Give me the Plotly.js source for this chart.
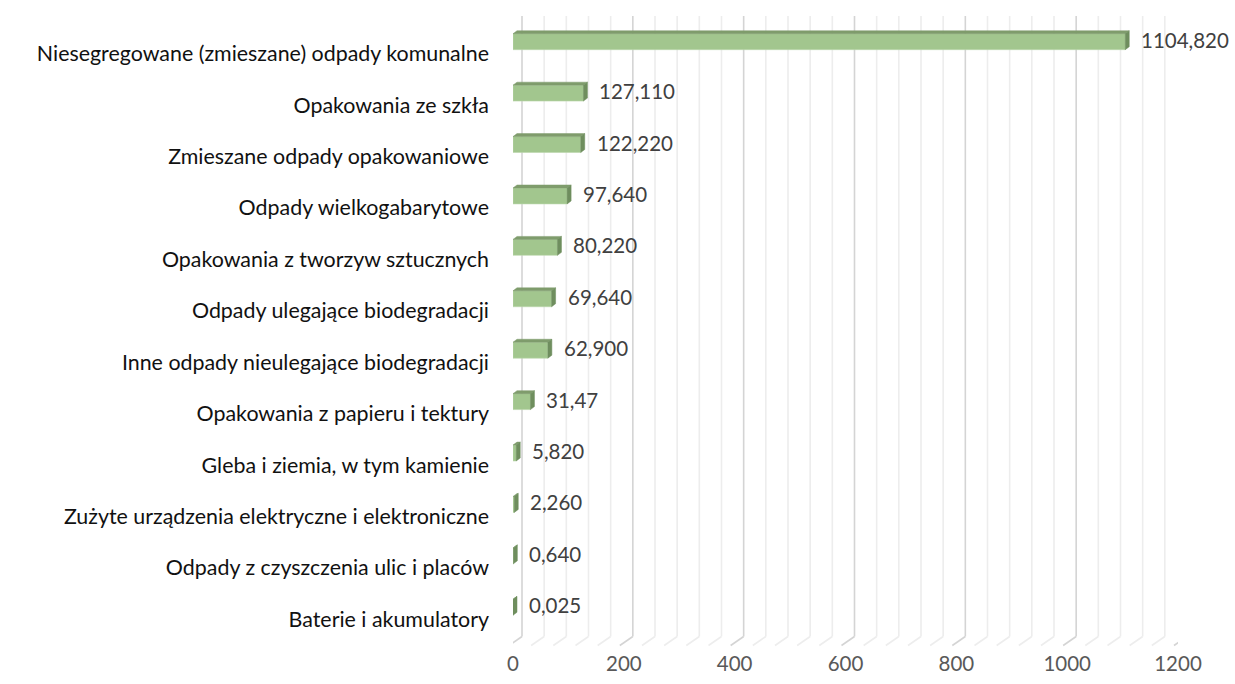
<!DOCTYPE html>
<html>
<head>
<meta charset="utf-8">
<script src="https://cdn.plot.ly/plotly-3.0.1.min.js"></script>
<style>html,body{margin:0;padding:0;background:#fff;}#chart{width:1235px;height:684px;}</style>
</head>
<body>
<div id="chart"></div>
<script>
// ---- data ----
const categories = [
  'Niesegregowane (zmieszane) odpady komunalne',
  'Opakowania ze szkła',
  'Zmieszane odpady opakowaniowe',
  'Odpady wielkogabarytowe',
  'Opakowania z tworzyw sztucznych',
  'Odpady ulegające biodegradacji',
  'Inne odpady nieulegające biodegradacji',
  'Opakowania z papieru i tektury',
  'Gleba i ziemia, w tym kamienie',
  'Zużyte urządzenia elektryczne i elektroniczne',
  'Odpady z czyszczenia ulic i placów',
  'Baterie i akumulatory'
];
const values = [1104.82, 127.11, 122.22, 97.64, 80.22, 69.64, 62.9, 31.47, 5.82, 2.26, 0.64, 0.025];
const valueLabels = ['1104,820','127,110','122,220','97,640','80,220','69,640','62,900','31,47','5,820','2,260','0,640','0,025'];
const xTickVals = [0, 200, 400, 600, 800, 1000, 1200];
const xMinorStep = 40;

// ---- layout constants ----
const W = 1235, H = 684;
const M = {l: 513, r: 57, t: 15.5, b: 50.5};
const plotW = W - M.l - M.r, plotH = H - M.t - M.b;
const xMax = 1200;
const n = categories.length;
const pxPerX = plotW / xMax;
const pxPerY = plotH / n;
const barW = 0.31;
const depthPxX = 4, depthPxY = 3;
const dX = depthPxX / pxPerX, dY = depthPxY / pxPerY;

const yPos = categories.map((c, i) => n - 1 - i);

// 3D faces
const topX = [], topY = [], sideX = [], sideY = [];
values.forEach((v, i) => {
  const y = yPos[i], h = barW / 2;
  topX.push(0, v, v + dX, dX, 0, null);
  topY.push(y + h, y + h, y + h + dY, y + h + dY, y + h, null);
  sideX.push(v, v + dX, v + dX, v, v, null);
  sideY.push(y - h, y - h + dY, y + h + dY, y + h, y - h, null);
});

const traces = [
  {
    type: 'bar', orientation: 'h', x: values, y: yPos, width: barW,
    marker: {color: '#a2c68e', line: {color: '#bcd6ad', width: 0.6}},
    hoverinfo: 'skip'
  },
  {
    type: 'scatter', mode: 'lines', x: topX, y: topY, fill: 'toself',
    fillcolor: '#7f9c6c', line: {color: '#7f9c6c', width: 0.5}, hoverinfo: 'skip'
  },
  {
    type: 'scatter', mode: 'lines', x: sideX, y: sideY, fill: 'toself',
    fillcolor: '#6f8e5e', line: {color: '#6f8e5e', width: 0.5}, hoverinfo: 'skip'
  }
];

// back-wall gridlines and floor diagonals
const shapes = [];
for (let g = 0; g <= xMax + 1e-9; g += xMinorStep) {
  const major = Math.abs(g % 200) < 1e-9;
  const col = major ? '#d4d4d4' : '#ededed';
  shapes.push({
    type: 'line', layer: 'below', xref: 'x', yref: 'paper',
    xsizemode: 'pixel', xanchor: g, x0: 9, x1: 9,
    y0: -3.5 / plotH, y1: 1,
    line: {color: col, width: 1.6}
  });
  shapes.push({
    type: 'line', layer: 'below', xref: 'x', yref: 'paper',
    xsizemode: 'pixel', xanchor: g, x0: 9, x1: -4,
    ysizemode: 'pixel', yanchor: 0, y0: -3.5, y1: -12.5,
    line: {color: col, width: 1.6}
  });
}

const annotations = values.map((v, i) => ({
  x: v, y: yPos[i], xref: 'x', yref: 'y',
  text: valueLabels[i], showarrow: false,
  xanchor: 'left', yanchor: 'middle', xshift: 14, yshift: 2,
  font: {family: 'Lato, sans-serif', size: 20.5, color: '#404040'}
}));

const layout = {
  width: W, height: H,
  margin: M,
  paper_bgcolor: '#ffffff', plot_bgcolor: 'rgba(0,0,0,0)',
  showlegend: false,
  bargap: 0,
  xaxis: {
    range: [0, xMax], tickvals: xTickVals, ticktext: xTickVals.map(String),
    showgrid: false, zeroline: false, showline: false, ticks: '',
    ticklabelstandoff: 16,
    tickfont: {family: 'Lato, sans-serif', size: 20.5, color: '#595959'},
    fixedrange: true
  },
  yaxis: {
    range: [-0.5, n - 0.5], tickvals: yPos, ticktext: categories,
    showgrid: false, zeroline: false, showline: false, ticks: '',
    ticklabelstandoff: 23, ticklabelshift: 12,
    tickfont: {family: 'Lato, sans-serif', size: 21.4, color: '#111111'},
    fixedrange: true
  },
  shapes: shapes,
  annotations: annotations
};

Plotly.newPlot('chart', traces, layout, {displayModeBar: false, staticPlot: true});
</script>
</body>
</html>
